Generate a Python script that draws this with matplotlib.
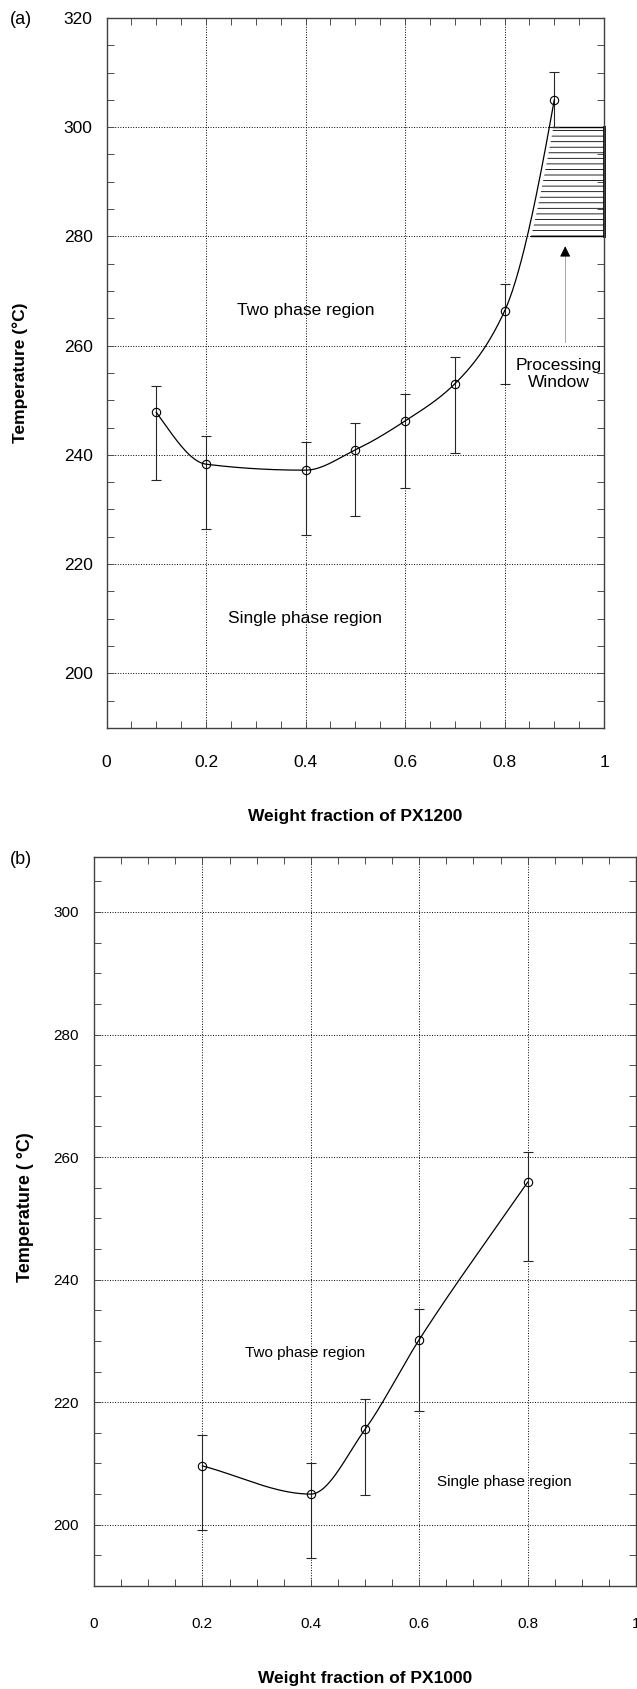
import numpy as np
import matplotlib
matplotlib.use('Agg')
import matplotlib.pyplot as plt
from matplotlib.ticker import MultipleLocator

plt.rcParams['font.family'] = ['Liberation Sans', 'DejaVu Sans']
plt.rcParams['hatch.linewidth'] = 0.6

# (a) PX1200 blends: cloud point temperature with error bar ends
xa = [0.1, 0.2, 0.4, 0.5, 0.6, 0.7, 0.8, 0.9]
ta = [247.8, 238.3, 237.2, 240.9, 246.2, 253.0, 266.3, 305.0]
ta_hi = [252.7, 243.4, 242.3, 245.9, 251.1, 257.9, 271.2, 310.1]
ta_lo = [235.4, 226.4, 225.3, 228.9, 233.9, 240.4, 252.9, 300.0]

# (b) PX1000 blends
xb = [0.2, 0.4, 0.5, 0.6, 0.8]
tb = [209.6, 205.0, 215.55, 230.2, 255.9]
tb_hi = [214.6, 210.0, 220.55, 235.2, 260.9]
tb_lo = [199.1, 194.6, 204.8, 218.6, 243.1]

# processing window of panel (a)
window_lo, window_hi = 280, 300
arrow_x, arrow_base, arrow_tip = 0.922, 260.7, 278.7


def pchip(x, y, xs, secant_ends=False):
    x = np.asarray(x, float)
    y = np.asarray(y, float)
    h = np.diff(x)
    d = np.diff(y) / h
    n = len(x)
    m = np.zeros(n)
    for k in range(1, n - 1):
        if d[k - 1] * d[k] > 0:
            w1 = 2 * h[k] + h[k - 1]
            w2 = h[k] + 2 * h[k - 1]
            m[k] = (w1 + w2) / (w1 / d[k - 1] + w2 / d[k])
    if secant_ends:
        m[0], m[-1] = d[0], d[-1]
    else:
        m[0] = ((2 * h[0] + h[1]) * d[0] - h[0] * d[1]) / (h[0] + h[1])
        if np.sign(m[0]) != np.sign(d[0]):
            m[0] = 0
        m[-1] = ((2 * h[-1] + h[-2]) * d[-1] - h[-1] * d[-2]) / (h[-1] + h[-2])
        if np.sign(m[-1]) != np.sign(d[-1]):
            m[-1] = 0
    i = np.clip(np.searchsorted(x, xs) - 1, 0, n - 2)
    t = (xs - x[i]) / h[i]
    h00 = 2 * t**3 - 3 * t**2 + 1
    h10 = t**3 - 2 * t**2 + t
    h01 = -2 * t**3 + 3 * t**2
    h11 = t**3 - t**2
    return h00 * y[i] + h10 * h[i] * m[i] + h01 * y[i + 1] + h11 * h[i] * m[i + 1]


def style_axes(ax, ymin, ymax, fs, xpad, ypad):
    ax.set_xlim(0, 1)
    ax.set_ylim(ymin, ymax)
    ax.xaxis.set_major_locator(MultipleLocator(0.2))
    ax.xaxis.set_minor_locator(MultipleLocator(0.05))
    ax.yaxis.set_major_locator(MultipleLocator(20))
    ax.yaxis.set_minor_locator(MultipleLocator(5))
    ax.xaxis.set_major_formatter(plt.FuncFormatter(lambda v, p: '%g' % round(v, 2)))
    ax.tick_params(which='both', direction='in', top=True, right=True,
                   length=5, width=0.7, color='0.3')
    ax.tick_params(axis='x', which='major', pad=xpad, labelsize=fs)
    ax.tick_params(axis='y', which='major', pad=ypad, labelsize=fs)
    ax.grid(True, which='major', ls=':', lw=0.7, color='k')
    ax.set_axisbelow(True)
    for s in ax.spines.values():
        s.set_linewidth(1.0)
        s.set_color('0.25')


def draw_series(ax, x, t, lo, hi, ms, secant_ends=False):
    t = np.asarray(t)
    err = [t - np.asarray(lo), np.asarray(hi) - t]
    ax.errorbar(x, t, yerr=err, fmt='none', ecolor='0.15', elinewidth=0.8,
                capsize=3.5, capthick=0.8, zorder=3)
    xs = np.linspace(x[0], x[-1], 400)
    ax.plot(xs, pchip(x, t, xs, secant_ends), color='k', lw=0.9, zorder=4)
    ax.plot(x, t, 'o', mfc='none', mec='k', ms=ms, mew=0.8, zorder=5)


fig = plt.figure(figsize=(6.37, 16.89), dpi=100)

# ---- panel (a)
ax1 = fig.add_axes([0.1672, 0.5690, 0.7810, 0.42037])
style_axes(ax1, 190, 320, 12.5, 19.5, 10)
draw_series(ax1, xa, ta, ta_lo, ta_hi, 6)

# hatched processing window between the curve and x = 1
xs = np.linspace(xa[-2], xa[-1], 300)
ys = pchip(xa, ta, xs)
tw = np.linspace(window_lo, window_hi, 100)
xw = np.interp(tw, ys, xs) + 0.008
ax1.fill_betweenx(tw, xw, 1, facecolor='none', edgecolor='k', hatch='---',
                  lw=0, zorder=2)
ax1.plot([xw[-1], 1], [window_hi, window_hi], color='k', lw=1.0, zorder=2)
ax1.plot([xw[0], 1], [window_lo, window_lo], color='k', lw=1.0, zorder=2)
ax1.plot([1, 1], [window_lo, window_hi], color='k', lw=2.0, zorder=2, clip_on=False)
ax1.plot([arrow_x, arrow_x], [arrow_base, arrow_tip - 2], color='0.6', lw=0.6)
ax1.annotate('', xy=(arrow_x, arrow_tip), xytext=(arrow_x, arrow_tip - 2.5),
             arrowprops=dict(arrowstyle='-|>', color='k', lw=0.6,
                             mutation_scale=16))

ax1.text(0.401, 266.4, 'Two phase region', fontsize=12.5, ha='center', va='center')
ax1.text(0.398, 210.1, 'Single phase region', fontsize=12.5, ha='center', va='center')
ax1.text(0.9085, 254.8, 'Processing\nWindow', fontsize=12.5, ha='center',
         va='center', linespacing=1.2)

ax1.set_xlabel('Weight fraction of PX1200', fontsize=12.5, fontweight='bold')
ax1.xaxis.label.set_va('center')
ax1.xaxis.set_label_coords(0.5, -0.1254)
ax1.set_ylabel('Temperature (°C)', fontsize=12.5, fontweight='bold')
ax1.yaxis.label.set_va('center')
ax1.yaxis.set_label_coords(-0.174, 0.5)
fig.text(10 / 637, 1 - 19 / 1689, '(a)', fontsize=13, ha='left', va='center')

# ---- panel (b)
ax2 = fig.add_axes([0.14757, 0.06098, 0.8509, 0.43174])
style_axes(ax2, 190, 309, 11, 22.5, 11)
draw_series(ax2, xb, tb, tb_lo, tb_hi, 6, secant_ends=True)

ax2.text(0.39, 228.05, 'Two phase region', fontsize=11, ha='center', va='center')
ax2.text(0.757, 206.9, 'Single phase region', fontsize=11, ha='center', va='center')

ax2.set_xlabel('Weight fraction of PX1000', fontsize=12.5, fontweight='bold')
ax2.xaxis.label.set_va('center')
ax2.xaxis.set_label_coords(0.5, -0.1274)
ax2.set_ylabel('Temperature ( °C)', fontsize=13, fontweight='bold')
ax2.yaxis.label.set_va('center')
ax2.yaxis.set_label_coords(-0.1273, 0.519)
fig.text(10 / 637, 1 - 859 / 1689, '(b)', fontsize=13, ha='left', va='center')

fig.savefig('out.png', dpi=100)
